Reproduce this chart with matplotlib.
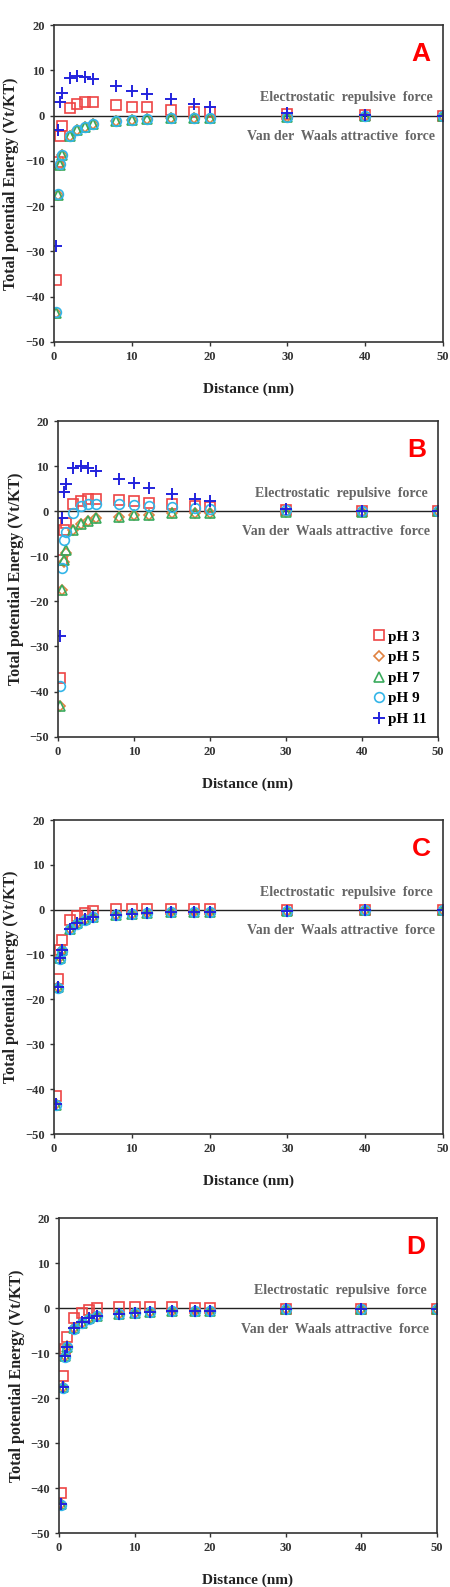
import matplotlib
matplotlib.use("Agg")
import matplotlib.pyplot as plt

plt.rcParams['font.family'] = ['Liberation Serif', 'DejaVu Serif']
plt.rcParams['font.weight'] = 'bold'

# distances (nm)
dist = [0.25, 0.5, 0.75, 1, 2, 3, 4, 5, 8, 10, 12, 15, 18, 20, 30, 40, 50]

# panel A
A_pH3 = [-36.4, -10.2, -4.5, -2.4, 1.7, 2.6, 2.9, 2.9, 2.3, 2.0, 1.8, 1.2, 0.9, 0.8, 0.3, 0.1, 0.0]
A_pH5 = [-43.5, -17.5, -10.8, -8.7, -4.5, -3.2, -2.6, -1.9, -1.1, -0.9, -0.8, -0.6, -0.5, -0.45, -0.2, -0.1, -0.05]
A_pH7 = [-43.5, -17.5, -10.8, -8.7, -4.5, -3.2, -2.6, -1.9, -1.1, -0.9, -0.8, -0.6, -0.5, -0.45, -0.2, -0.1, -0.05]
A_pH9 = [-43.4, -17.4, -10.7, -8.6, -4.4, -3.1, -2.5, -1.8, -1.1, -0.9, -0.8, -0.6, -0.5, -0.45, -0.2, -0.1, -0.05]
A_pH11 = [-28.8, -3.2, 3.1, 5.1, 8.2, 8.7, 8.6, 8.0, 6.5, 5.5, 4.7, 3.6, 2.6, 2.0, 0.5, 0.2, 0.0]

# panel B
B_pH3 = [-36.9, -10.9, -4.2, -2.7, 1.6, 2.3, 2.7, 2.7, 2.4, 2.2, 1.9, 1.5, 1.2, 1.0, 0.3, 0.1, 0.0]
B_pH5 = [-43.3, -17.4, -11.3, -9.3, -4.2, -2.9, -2.1, -1.5, -1.3, -0.9, -0.9, -0.5, -0.5, -0.5, -0.2, -0.1, -0.05]
B_pH7 = [-43.3, -17.4, -10.9, -8.7, -4.2, -2.9, -2.1, -1.5, -1.3, -0.9, -0.9, -0.5, -0.5, -0.5, -0.2, -0.1, -0.05]
B_pH9 = [-38.8, -12.7, -6.4, -4.6, -0.4, 1.1, 1.6, 1.7, 1.7, 1.4, 1.2, 0.9, 0.7, 0.6, 0.2, 0.05, 0.0]
B_pH11 = [-27.7, -1.6, 4.3, 6.1, 9.5, 10.0, 9.6, 8.9, 7.2, 6.3, 5.2, 3.9, 2.8, 2.3, 0.5, 0.1, 0.0]

# panel C
C_pH3 = [-41.5, -15.5, -9.0, -6.8, -2.3, -1.4, -0.7, -0.2, 0.15, 0.15, 0.15, 0.15, 0.1, 0.1, -0.1, -0.1, -0.05]
C_pH5 = [-43.4, -17.3, -10.6, -8.9, -4.3, -3.0, -2.1, -1.7, -1.2, -0.9, -0.8, -0.6, -0.5, -0.45, -0.2, -0.1, -0.05]
C_pH7 = [-43.5, -17.3, -10.8, -9.0, -4.4, -3.0, -2.1, -1.7, -1.2, -0.9, -0.8, -0.6, -0.5, -0.45, -0.2, -0.1, -0.05]
C_pH9 = [-43.5, -17.4, -10.9, -9.1, -4.4, -3.1, -2.2, -1.7, -1.2, -0.9, -0.8, -0.6, -0.5, -0.45, -0.2, -0.1, -0.05]
C_pH11 = [-43.3, -17.2, -10.8, -9.0, -4.3, -3.0, -2.1, -1.7, -1.2, -0.9, -0.8, -0.6, -0.5, -0.45, -0.2, -0.1, -0.05]

# panel D
D_pH3 = [-41.0, -15.0, -9.0, -6.3, -2.2, -1.1, -0.4, 0.0, 0.35, 0.35, 0.35, 0.3, 0.1, 0.1, -0.1, -0.1, -0.05]
D_pH5 = [-43.5, -17.5, -10.6, -8.4, -4.4, -3.2, -2.2, -1.7, -1.2, -1.0, -0.9, -0.7, -0.6, -0.5, -0.2, -0.1, -0.05]
D_pH7 = [-43.5, -17.5, -10.7, -8.5, -4.4, -3.2, -2.2, -1.7, -1.2, -1.0, -0.9, -0.7, -0.6, -0.5, -0.2, -0.1, -0.05]
D_pH9 = [-43.6, -17.6, -10.8, -8.6, -4.5, -3.2, -2.3, -1.8, -1.2, -1.0, -0.9, -0.7, -0.6, -0.5, -0.2, -0.1, -0.05]
D_pH11 = [-43.4, -17.4, -10.6, -8.5, -4.3, -3.1, -2.2, -1.7, -1.2, -1.0, -0.9, -0.7, -0.6, -0.5, -0.2, -0.1, -0.05]

labels = ['pH 3', 'pH 5', 'pH 7', 'pH 9', 'pH 11']
panels = ['A', 'B', 'C', 'D']
panel_data = [
    [A_pH3, A_pH5, A_pH7, A_pH9, A_pH11],
    [B_pH3, B_pH5, B_pH7, B_pH9, B_pH11],
    [C_pH3, C_pH5, C_pH7, C_pH9, C_pH11],
    [D_pH3, D_pH5, D_pH7, D_pH9, D_pH11],
]

styles = [
    dict(marker='s', mfc='none', mec='#ee4444', ms=7, mew=1.2),
    dict(marker='D', mfc='none', mec='#e0813f', ms=5, mew=1.2),
    dict(marker='^', mfc='none', mec='#3aaa5c', ms=6.5, mew=1.2),
    dict(marker='o', mfc='none', mec='#33b5e8', ms=7, mew=1.2),
    dict(marker='+', mfc='none', mec='#2222dd', ms=8, mew=1.4),
]

# axes boxes [left, bottom, width, height] in figure fraction
boxes = [
    [0.120, 0.7845, 0.864, 0.1997],
    [0.129, 0.5358, 0.844, 0.1989],
    [0.120, 0.2854, 0.864, 0.1979],
    [0.131, 0.0338, 0.840, 0.1985],
]

fig = plt.figure(figsize=(4.5, 15.87), dpi=100)

for i, name in enumerate(panels):
    ax = fig.add_axes(boxes[i])
    for vals, lab, st in zip(panel_data[i], labels, styles):
        ax.plot(dist, vals, linestyle='none', label=lab, **st)
    ax.axhline(0, color='#222222', lw=1.0, zorder=1)
    ax.set_xlim(0, 50)
    ax.set_ylim(-50, 20)
    ax.set_xticks(range(0, 51, 10))
    ax.set_yticks(range(-50, 21, 10))
    ax.tick_params(labelsize=9, colors='#333333', length=3, width=1)
    for t in ax.get_xticklabels() + ax.get_yticklabels():
        t.set_fontweight('bold')
    for sp in ax.spines.values():
        sp.set_color('#333333')
        sp.set_linewidth(1.2)
    ax.set_xlabel('Distance (nm)', fontsize=11, fontweight='bold', color='#222222', labelpad=14)
    ax.set_ylabel('Total potential Energy (Vt/KT)', fontsize=11.5, fontweight='bold', color='#222222')
    ax.yaxis.set_label_coords(-0.09, 0.5)
    ax.text(48.7, 3.9, 'Electrostatic  repulsive  force', ha='right', va='center',
            fontsize=10, fontweight='bold', color='#666666')
    ax.text(49.0, -4.6, 'Van der  Waals attractive  force', ha='right', va='center',
            fontsize=10, fontweight='bold', color='#666666')
    ax.text(47.2, 13.6, name, ha='center', va='center', fontsize=19, fontweight='bold',
            color='#ff0000', family=['Liberation Sans', 'DejaVu Sans'])
    if name == 'B':
        ax.legend(loc='lower right', frameon=False, handlelength=0.6,
                  handletextpad=0.3, labelspacing=0.45, borderaxespad=0.3,
                  prop=dict(weight='bold', size=11))

fig.savefig('out.png', dpi=100)
